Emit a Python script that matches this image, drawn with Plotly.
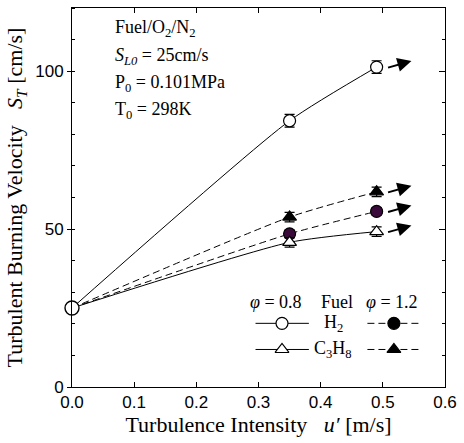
import plotly.graph_objects as go

# ---- data ----
u = [0.0, 0.35, 0.49]
h2_08 = [25, 84.3, 101.3]
h2_12 = [25, 48.5, 55.6]
c3_08 = [25, 45.8, 49.2]
c3_12 = [25, 53.8, 61.8]
err_h2_08 = [0, 2.0, 2.0]
err_h2_12 = [0, 1.2, 1.2]
err_c3_08 = [0, 1.5, 1.5]
err_c3_12 = [0, 1.5, 1.5]

x_ticks = [0.0, 0.1, 0.2, 0.3, 0.4, 0.5, 0.6]
y_ticks = [0, 50, 100]

SERIF = "Liberation Serif"
SANS = "Liberation Sans"
PURPLE = "#3a0a3a"
DASH = "7px,4px"

series = [
    dict(y=h2_08, e=err_h2_08, dash="solid", sym="circle", fill="white"),
    dict(y=h2_12, e=err_h2_12, dash=DASH, sym="circle", fill=PURPLE),
    dict(y=c3_08, e=err_c3_08, dash="solid", sym="triangle-up", fill="white"),
    dict(y=c3_12, e=err_c3_12, dash=DASH, sym="triangle-up", fill="black"),
]

fig = go.Figure()

# lines
for s in series:
    fig.add_trace(go.Scatter(x=u, y=s["y"], mode="lines",
                             line=dict(color="black", width=1, dash=s["dash"],
                                       shape="spline", smoothing=0.6),
                             showlegend=False, hoverinfo="skip"))
# markers with error bars
for s in series:
    fig.add_trace(go.Scatter(x=u[1:], y=s["y"][1:], mode="markers",
                             marker=dict(symbol=s["sym"], size=12, color=s["fill"],
                                         line=dict(color="black", width=1.2)),
                             error_y=dict(type="data", array=s["e"][1:], color="black",
                                          thickness=1.2, width=5),
                             showlegend=False))
# shared origin point
fig.add_trace(go.Scatter(x=[u[0]], y=[h2_08[0]], mode="markers",
                         marker=dict(symbol="circle", size=14, color="white",
                                     line=dict(color="black", width=1.4)),
                         showlegend=False, cliponaxis=False))

# dummy trace for right axis
fig.add_trace(go.Scatter(x=[None], y=[None], yaxis="y3", showlegend=False))

# arrows
annotations = []
for s in series:
    annotations.append(dict(x=u[-1] + 0.056, y=s["y"][-1] + 1.9, xref="x", yref="y",
                            ax=u[-1] + 0.016, ay=s["y"][-1] - 0.3, axref="x", ayref="y",
                            text="", showarrow=True, arrowhead=2, arrowsize=1.4,
                            arrowwidth=2, arrowcolor="black"))

# custom legend on overlay axes (fractions of plot area)
leg_rows = [0.168, 0.099]
leg_syms = [("circle", "white", "black"), ("triangle-up", "white", "black")]
for yr, (sym, f08, f12) in zip(leg_rows, leg_syms):
    fig.add_trace(go.Scatter(x=[0.492, 0.635], y=[yr, yr], mode="lines", xaxis="x2", yaxis="y2",
                             line=dict(color="black", width=1), showlegend=False))
    fig.add_trace(go.Scatter(x=[0.563], y=[yr], mode="markers", xaxis="x2", yaxis="y2",
                             marker=dict(symbol=sym, size=12, color=f08,
                                         line=dict(color="black", width=1.2)),
                             showlegend=False))
    fig.add_trace(go.Scatter(x=[0.792, 0.935], y=[yr, yr], mode="lines", xaxis="x2", yaxis="y2",
                             line=dict(color="black", width=1, dash=DASH), showlegend=False))
    fig.add_trace(go.Scatter(x=[0.863], y=[yr], mode="markers", xaxis="x2", yaxis="y2",
                             marker=dict(symbol=sym, size=12, color=f12,
                                         line=dict(color="black", width=1.2)),
                             showlegend=False))

txt = dict(color="black", family=SERIF, size=18)
for t, xx in [("<i>φ</i> = 0.8", 0.548), ("Fuel", 0.711), ("<i>φ</i> = 1.2", 0.858)]:
    annotations.append(dict(x=xx, y=0.223, xref="paper", yref="paper", text=t,
                            showarrow=False, font=txt, xanchor="center", yanchor="middle"))
for t, yy in [("H<sub>2</sub>", 0.168), ("C<sub>3</sub>H<sub>8</sub>", 0.099)]:
    annotations.append(dict(x=0.700, y=yy, xref="paper", yref="paper", text=t,
                            showarrow=False, font=txt, xanchor="center", yanchor="middle"))

# condition text
for t, yy in [("Fuel/O<sub>2</sub>/N<sub>2</sub>", 0.945),
              ("<i>S<sub>L0</sub></i> = 25cm/s", 0.873),
              ("P<sub>0</sub> = 0.101MPa", 0.800),
              ("T<sub>0</sub> = 298K", 0.729)]:
    annotations.append(dict(x=0.109, y=yy, xref="paper", yref="paper", text=t,
                            showarrow=False, font=txt, xanchor="left", yanchor="middle"))

fig.update_layout(
    width=464, height=443,
    margin=dict(l=72, r=12, t=7, b=56),
    plot_bgcolor="white", paper_bgcolor="white",
    showlegend=False,
    annotations=annotations,
    xaxis=dict(range=[0, 0.6], tickvals=x_ticks, ticktext=[f"{v:.1f}" for v in x_ticks],
               ticks="inside", ticklen=5, tickcolor="black", tickwidth=1,
               showline=True, linecolor="black", linewidth=1, mirror="ticks",
               showgrid=False, zeroline=False,
               tickfont=dict(family=SANS, size=17, color="black"),
               title=dict(text="Turbulence Intensity\u00a0\u00a0\u00a0<i>u′</i> [m/s]",
                          font=dict(family=SERIF, size=22, color="black"), standoff=4)),
    yaxis=dict(range=[0, 120], tickvals=y_ticks, ticks="outside", ticklen=4,
               tickcolor="black", tickwidth=1,
               minor=dict(ticks="inside", dtick=10, ticklen=3, tickcolor="black"),
               showline=True, linecolor="black", linewidth=1, mirror=False,
               showgrid=False, zeroline=False,
               tickfont=dict(family=SANS, size=17, color="black"),
               title=dict(text="Turbulent Burning Velocity\u00a0\u00a0\u00a0<i>S<sub>T</sub></i> [cm/s]",
                          font=dict(family=SERIF, size=22, color="black"), standoff=6)),
    yaxis3=dict(range=[0, 120], overlaying="y", side="right", anchor="x",
                tickvals=y_ticks, ticks="inside", ticklen=6, tickcolor="black",
                minor=dict(ticks="inside", dtick=10, ticklen=3, tickcolor="black"),
                showticklabels=False, showline=True, linecolor="black", linewidth=1,
                showgrid=False, zeroline=False),
    xaxis2=dict(range=[0, 1], overlaying="x", visible=False),
    yaxis2=dict(range=[0, 1], overlaying="y", visible=False),
)

fig.write_html("out.html")
